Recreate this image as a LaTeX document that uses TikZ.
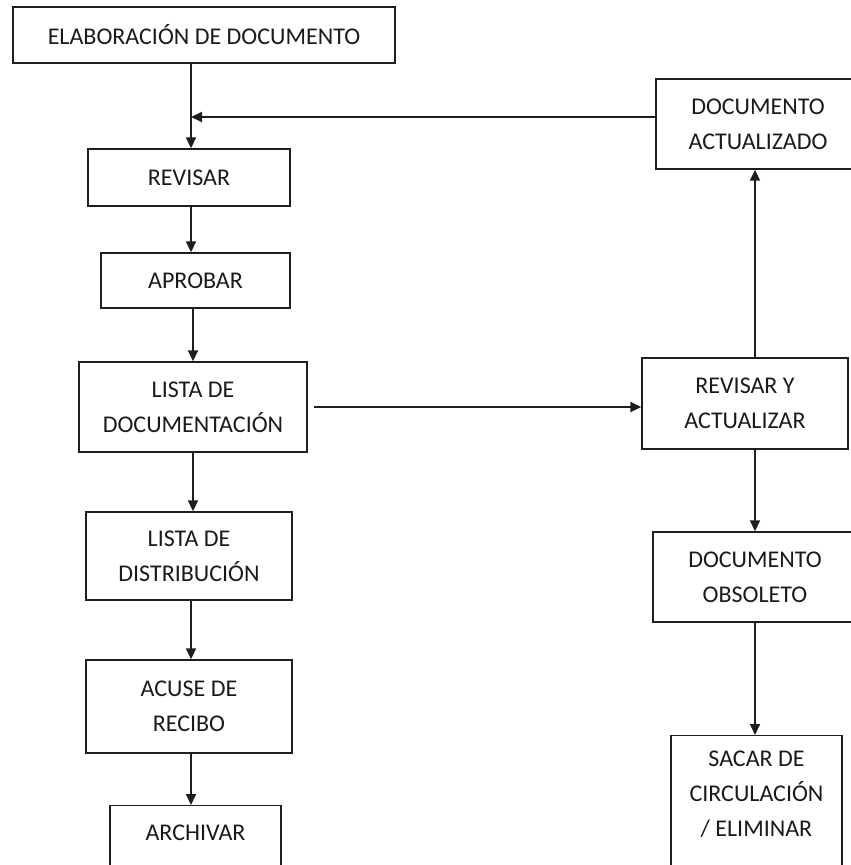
\documentclass[tikz,border=0pt]{standalone}
\usepackage{fontspec}
\setmainfont{Carlito}
\usetikzlibrary{arrows.meta}
\definecolor{ink}{HTML}{1E1E1E}
\definecolor{txt}{HTML}{1A1A1A}
\begin{document}
\begin{tikzpicture}[x=1pt,y=-1pt,
  box/.style={draw=ink, line width=1.4pt, align=center, inner sep=0pt,
    font=\fontsize{24}{35}\selectfont, text=txt},
  openbox/.style={box, anchor=north, text depth=140pt},
  arr/.style={draw=ink, line width=1.8pt, -{Triangle[length=11pt,width=10pt]}}]
\useasboundingbox (0,0) rectangle (851,865);
\clip (0,0) rectangle (851,865);

% left column: main document flow
\node[box, minimum width=382pt, minimum height=56pt] (elab) at (204,35) {ELABORACIÓN DE DOCUMENTO};
\node[box, minimum width=202pt, minimum height=57pt] (revisar) at (189,177.5) {REVISAR};
\node[box, minimum width=189pt, minimum height=55pt] (aprobar) at (195.5,280.5) {APROBAR};
\node[box, minimum width=228pt, minimum height=90pt] (listadoc) at (193,407) {LISTA DE\\DOCUMENTACIÓN};
\node[box, minimum width=206pt, minimum height=88pt] (listadist) at (189,556) {LISTA DE\\DISTRIBUCIÓN};
\node[box, minimum width=206pt, minimum height=93pt] (acuse) at (189,706.5) {ACUSE DE\\RECIBO};
\node[openbox, minimum width=171pt, inner ysep=19pt] (archivar) at (195.5,805) {ARCHIVAR};

% right column: revision cycle
\node[box, minimum width=204pt, minimum height=90pt] (docact) at (758,124) {DOCUMENTO\\ACTUALIZADO};
\node[box, minimum width=206pt, minimum height=91pt] (rya) at (745,403.5) {REVISAR Y\\ACTUALIZAR};
\node[box, minimum width=204pt, minimum height=90pt] (docobs) at (755,577) {DOCUMENTO\\OBSOLETO};
\node[openbox, minimum width=171pt, inner ysep=15pt] (sacar) at (756.5,735) {SACAR DE\\CIRCULACIÓN\\/ ELIMINAR};

% connectors
\coordinate (merge) at (191,117);
\draw[arr] (merge |- elab.south) -- (merge |- revisar.north);
\draw[arr] (docact.west |- merge) -- (merge);
\draw[arr] (revisar.south -| merge) -- (aprobar.north -| merge);
\draw[arr] (aprobar.south -| listadoc.north) -- (listadoc.north);
\draw[arr] (listadoc.south) -- (listadoc.south |- listadist.north);
\draw[arr] (listadist.south -| merge) -- (acuse.north -| merge);
\draw[arr] (acuse.south -| merge) -- (archivar.north -| merge);
\draw[arr, shorten <=6pt] (listadoc.east) -- (rya.west |- listadoc.east);
\draw[arr] (rya.north -| docobs.north) -- (docact.south -| docobs.north);
\draw[arr] (rya.south -| docobs.north) -- (docobs.north);
\draw[arr] (docobs.south) -- (docobs.south |- sacar.north);
\end{tikzpicture}
\end{document}
